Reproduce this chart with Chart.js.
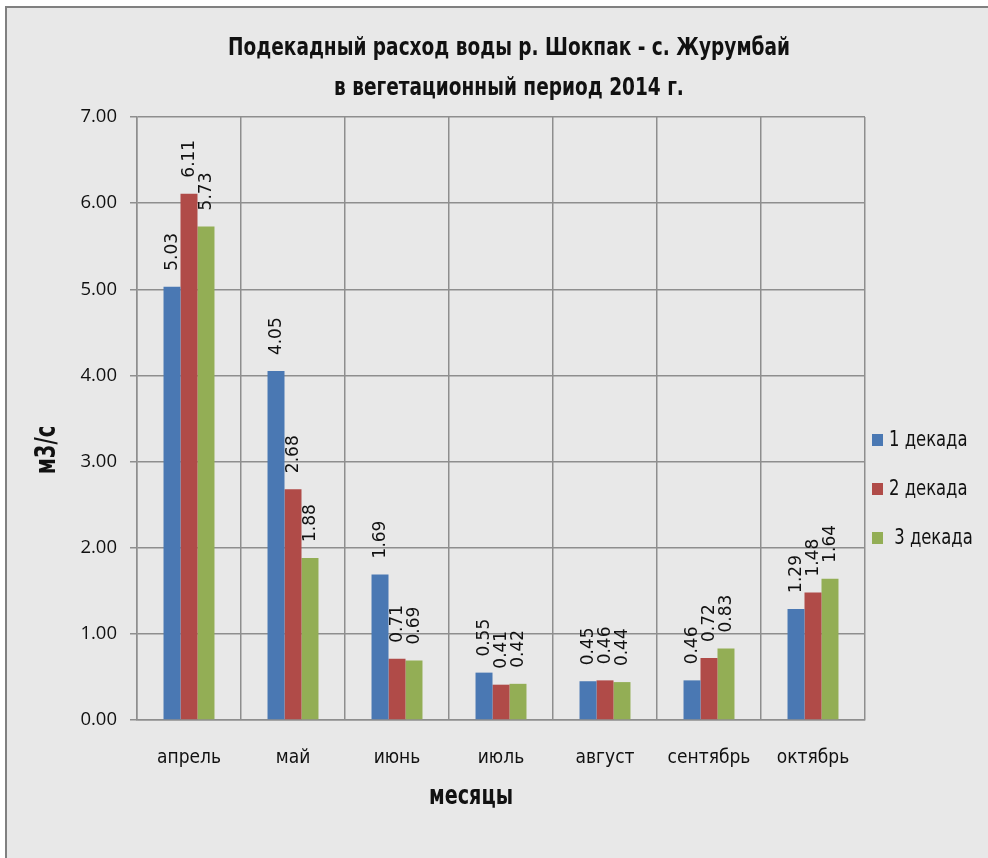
<!DOCTYPE html>
<html>
<head>
<meta charset="utf-8">
<script src="https://cdn.jsdelivr.net/npm/chart.js@4/dist/chart.umd.min.js"></script>
<style>
  html, body { margin: 0; padding: 0; background: #ffffff; width: 988px; height: 858px; overflow: hidden; }
  #frame { position: absolute; left: 5px; top: 6px; width: 990px; height: 860px; background: #e8e8e8;
           border-left: 2px solid #808080; border-top: 2px solid #808080; }
  #wrap { position: absolute; left: 0; top: 0; width: 988px; height: 858px; }
</style>
</head>
<body>
<div id="frame"></div>
<div id="wrap"><canvas id="chart" width="988" height="858"></canvas></div>
<script>
// Ten-day discharge, m3/s, by month
const months  = ['апрель', 'май', 'июнь', 'июль', 'август', 'сентябрь', 'октябрь'];
const decade1 = [5.03, 4.05, 1.69, 0.55, 0.45, 0.46, 1.29];
const decade2 = [6.11, 2.68, 0.71, 0.41, 0.46, 0.72, 1.48];
const decade3 = [5.73, 1.88, 0.69, 0.42, 0.44, 0.83, 1.64];
const seriesNames = ['1 декада', '2 декада', ' 3 декада'];
const titleLines = ['Подекадный расход воды р. Шокпак - с. Журумбай', 'в вегетационный период 2014 г.'];
const yAxisTitle = 'м3/с';
const xAxisTitle = 'месяцы';
const yMin = 0, yMax = 7, yStep = 1;

const colors = ['#4A78B3', '#B04B48', '#93AE55'];
const NARROW = '"Liberation Sans Narrow", "DejaVu Sans Condensed", "Arial Narrow", sans-serif';
const GRID = '#8e8e8e';

// draw text squeezed horizontally by sx around the anchor point
function squeezedText(ctx, text, x, y, sx, rotate) {
  ctx.save();
  ctx.translate(x, y);
  if (rotate) ctx.rotate(-Math.PI / 2);
  ctx.scale(sx, 1);
  ctx.fillText(text, 0, 0);
  ctx.restore();
}

// Title, axis titles, legend and rotated value labels
const decorations = {
  id: 'decorations',
  afterDatasetsDraw(chart) {
    const ctx = chart.ctx;
    ctx.save();
    ctx.fillStyle = '#111111';
    ctx.font = '17px "DejaVu Sans", sans-serif';
    ctx.textAlign = 'left';
    ctx.textBaseline = 'middle';
    chart.data.datasets.forEach((ds, i) => {
      const meta = chart.getDatasetMeta(i);
      meta.data.forEach((bar, j) => {
        ctx.save();
        ctx.translate(bar.x + 1, bar.y - 16);
        ctx.rotate(-Math.PI / 2);
        ctx.fillText(ds.data[j].toFixed(2), 0, 0);
        ctx.restore();
      });
    });
    ctx.restore();
  },
  afterDraw(chart) {
    const ctx = chart.ctx;
    ctx.save();
    ctx.fillStyle = '#111111';
    ctx.textBaseline = 'middle';

    // chart title
    ctx.textAlign = 'center';
    ctx.font = 'bold 25px ' + NARROW;
    squeezedText(ctx, titleLines[0], 509, 48, 0.824);
    squeezedText(ctx, titleLines[1], 509, 88, 0.824);

    // x axis title
    ctx.font = 'bold 26px ' + NARROW;
    squeezedText(ctx, xAxisTitle, 471, 797, 0.82);

    // y axis title
    ctx.font = 'bold 28px ' + NARROW;
    squeezedText(ctx, yAxisTitle, 48, 450, 0.78, true);

    // legend
    ctx.textAlign = 'left';
    ctx.font = '22px ' + NARROW;
    chart.data.datasets.forEach((ds, i) => {
      const cy = 440 + i * 49;
      ctx.fillStyle = ds.backgroundColor;
      ctx.fillRect(872, cy - 6, 11, 12);
      ctx.fillStyle = '#111111';
      squeezedText(ctx, ds.label, 889, cy, 0.83);
    });
    ctx.restore();
  }
};

new Chart(document.getElementById('chart'), {
  type: 'bar',
  data: {
    labels: months,
    datasets: [
      { label: seriesNames[0], data: decade1, backgroundColor: colors[0] },
      { label: seriesNames[1], data: decade2, backgroundColor: colors[1] },
      { label: seriesNames[2], data: decade3, backgroundColor: colors[2] }
    ]
  },
  options: {
    responsive: false,
    animation: false,
    devicePixelRatio: 1,
    layout: { padding: { top: 117, right: 123, bottom: 0, left: 0 } },
    datasets: { bar: { categoryPercentage: 0.49, barPercentage: 1.0, borderWidth: 0 } },
    plugins: {
      legend: { display: false },
      title: { display: false },
      tooltip: { enabled: false }
    },
    scales: {
      x: {
        offset: true,
        grid: { display: true, offset: true, color: GRID, lineWidth: 1.5, drawTicks: false },
        border: { display: true, color: GRID, width: 1.5 },
        ticks: { color: '#111111', font: { family: NARROW, size: 19 }, padding: 27, maxRotation: 0 },
        afterFit(scale) { scale.height = 138; }
      },
      y: {
        min: yMin,
        max: yMax,
        grid: { color: GRID, lineWidth: 1.5, tickLength: 7 },
        border: { display: true, color: GRID, width: 1.5 },
        ticks: {
          stepSize: yStep,
          color: '#111111',
          padding: 13,
          font: { family: '"Open Sans", sans-serif', size: 18.5 },
          callback: v => Number(v).toFixed(2)
        },
        afterFit(scale) { scale.width = 137; }
      }
    }
  },
  plugins: [decorations]
});
</script>
</body>
</html>
